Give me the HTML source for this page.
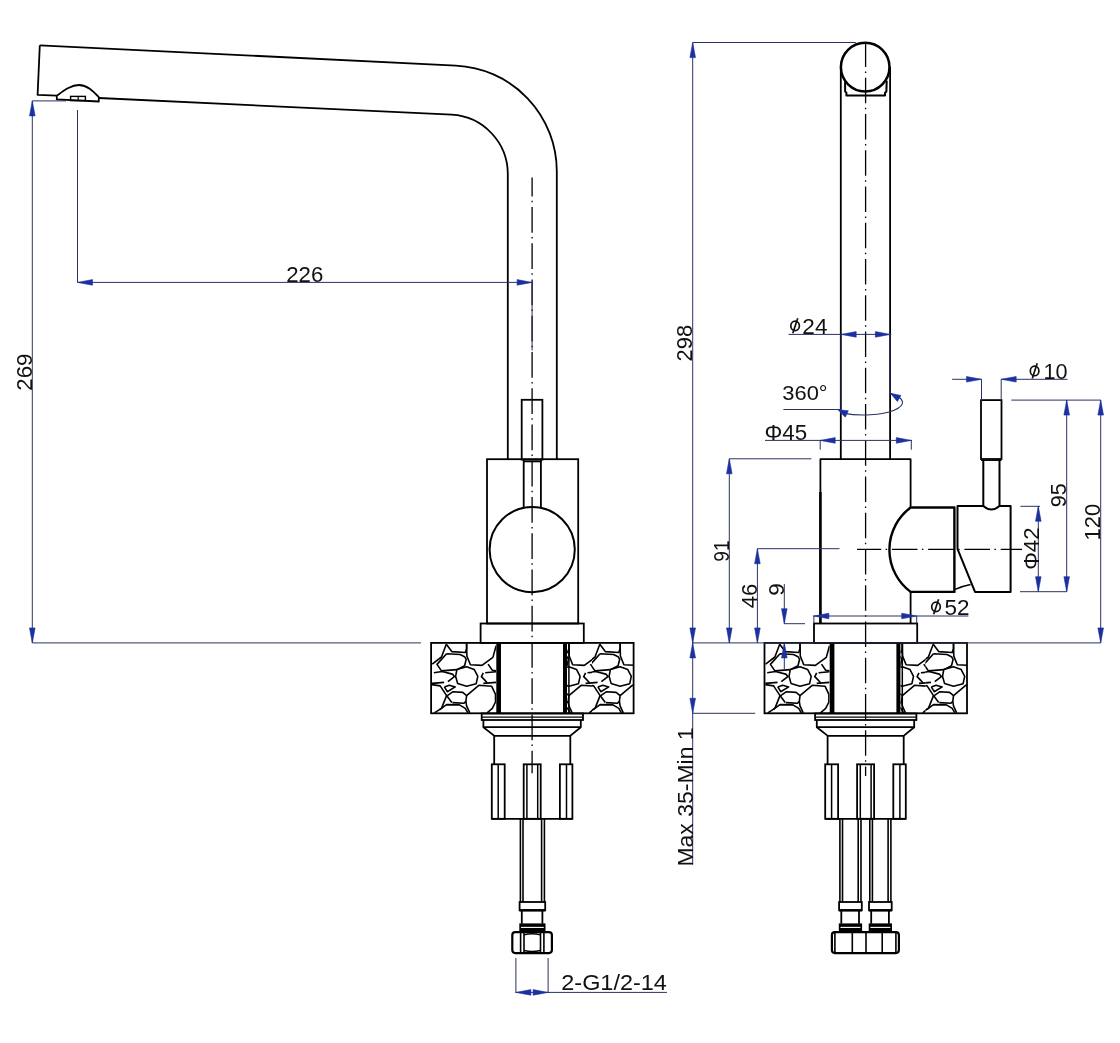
<!DOCTYPE html>
<html><head><meta charset="utf-8"><style>
html,body{margin:0;padding:0;background:#fff;width:1120px;height:1043px;overflow:hidden}
svg{display:block;font-family:"Liberation Sans",sans-serif;will-change:transform;font-kerning:none}
</style></head><body>
<svg width="1120" height="1043" viewBox="0 0 1120 1043" font-family="Liberation Sans, sans-serif" fill="#111">
<defs>
<g id="stones">
<polyline points="432.2,664.1 441.5,657 446.3,644.2" stroke="#000" stroke-width="1.6" fill="none" stroke-linejoin="round"/>
<polyline points="446.3,644.2 451.8,651.6 465.3,652.5 466.6,648.4 466.6,643.5" stroke="#000" stroke-width="1.6" fill="none" stroke-linejoin="round"/>
<polyline points="446.6,653.8 460.1,654.5 464.6,656.7 466.2,659.3 464.6,665.7 456.9,669.6 441.5,670.9 437,664.4 446.6,653.8" stroke="#000" stroke-width="1.6" fill="none" stroke-linejoin="round"/>
<polyline points="466.6,643.5 466.9,656.1 470.4,664.7 482,665.4 492.9,657.4 496.1,645.8" stroke="#000" stroke-width="1.6" fill="none" stroke-linejoin="round"/>
<polyline points="456.9,669.6 466.6,666.7 474.3,669.6 477.8,676.3 476.2,683.7 466.6,686.2 457.6,683.4 455.6,676.3 456.9,669.6" stroke="#000" stroke-width="1.6" fill="none" stroke-linejoin="round"/>
<polyline points="488.1,664.1 492.3,670.2 496.1,670.9" stroke="#000" stroke-width="1.6" fill="none" stroke-linejoin="round"/>
<polyline points="433.8,672.8 442.1,671.5 452.4,674.1 454.4,676.6 447.9,681.7" stroke="#000" stroke-width="1.6" fill="none" stroke-linejoin="round"/>
<polyline points="485.2,672.8 496.1,671.8" stroke="#000" stroke-width="1.6" fill="none" stroke-linejoin="round"/>
<polyline points="483.3,672.8 481.4,676.6 484.6,679.9 487.1,682.7" stroke="#000" stroke-width="1.6" fill="none" stroke-linejoin="round"/>
<polyline points="431.9,683.4 444.1,682.4" stroke="#000" stroke-width="1.6" fill="none" stroke-linejoin="round"/>
<polyline points="431.9,684.6 440.2,685.9 446.6,695.6 451.8,702.6" stroke="#000" stroke-width="1.6" fill="none" stroke-linejoin="round"/>
<polyline points="444.4,686.9 449.2,685.3 455.3,686.9 447.3,691.7 444.4,686.9" stroke="#000" stroke-width="1.6" fill="none" stroke-linejoin="round"/>
<polyline points="447.3,695.6 453.1,691.7 462.7,692.4 466.6,695.6 465.9,701.4 464,703.3 452.4,702.6" stroke="#000" stroke-width="1.6" fill="none" stroke-linejoin="round"/>
<polyline points="466.6,695.6 478.8,685.3 491.6,686.2 495.5,694.3 495.5,702 492.3,708.4 487.1,712.9" stroke="#000" stroke-width="1.6" fill="none" stroke-linejoin="round"/>
<polyline points="483.3,683.4 496.1,682.4" stroke="#000" stroke-width="1.6" fill="none" stroke-linejoin="round"/>
<polyline points="446.6,695.6 441.5,708.4 434.4,712.9" stroke="#000" stroke-width="1.6" fill="none" stroke-linejoin="round"/>
<polyline points="439.6,709.7 446.6,704.6 459.5,704.9 465.3,708.4 467.9,712.9" stroke="#000" stroke-width="1.6" fill="none" stroke-linejoin="round"/>
<polyline points="465.9,701.4 466.6,705.9 469.8,712.9" stroke="#000" stroke-width="1.6" fill="none" stroke-linejoin="round"/>
</g>
<clipPath id="cla"><rect x="431.1" y="642.9" width="65.2" height="70.4"/></clipPath>
<clipPath id="clb"><rect x="567" y="642.9" width="25" height="70.4"/></clipPath>
<clipPath id="clc"><rect x="592" y="642.9" width="41.6" height="70.4"/></clipPath>
<clipPath id="cra"><rect x="764.5" y="642.9" width="65.2" height="70.4"/></clipPath>
<clipPath id="crb"><rect x="900.4" y="642.9" width="25" height="70.4"/></clipPath>
<clipPath id="crc"><rect x="925.4" y="642.9" width="41.6" height="70.4"/></clipPath>
</defs>
<rect width="1120" height="1043" fill="#fff"/>
<path d="M 39.8 45.3 L 455.9 65.6 A 105.9 105.9 0 0 1 556.8 171.4 L 556.8 459.2" stroke="#000" stroke-width="1.8" fill="none" stroke-linejoin="round" />
<path d="M 39.8 45.3 L 37.6 94.8 L 56.8 95.7" stroke="#000" stroke-width="1.8" fill="none" stroke-linejoin="round" />
<path d="M 98.8 98.0 L 451.6 114.7 A 59.5 59.5 0 0 1 507.8 174.2 L 507.8 459.2" stroke="#000" stroke-width="1.8" fill="none" stroke-linejoin="round" />
<path d="M 56.8 95.7 L 56.8 99.3 L 98.8 101.5 L 98.8 97.2 C 93 91 87 85 79 85 C 71 85 64 90.5 56.8 95.7" stroke="#000" stroke-width="1.8" fill="none" stroke-linejoin="round" />
<rect x="70.6" y="96.4" width="14.8" height="4.2" stroke="#000" stroke-width="1.4" fill="none" />
<line x1="78.2" y1="96.4" x2="78.2" y2="100.6" stroke="#000" stroke-width="1.2" />
<rect x="487" y="459.2" width="91.2" height="164.3" stroke="#000" stroke-width="1.8" fill="none" />
<rect x="521.7" y="399.8" width="20.7" height="59.8" stroke="#000" stroke-width="1.8" fill="none" />
<line x1="523.7" y1="459.6" x2="523.7" y2="507.5" stroke="#000" stroke-width="1.8" />
<line x1="540.9" y1="459.6" x2="540.9" y2="507.5" stroke="#000" stroke-width="1.8" />
<line x1="523" y1="461.4" x2="541.6" y2="461.4" stroke="#000" stroke-width="1.8" />
<circle cx="532.2" cy="549.6" r="42.6" stroke="#000" stroke-width="2" fill="none"/>
<g transform="translate(0,0)">
<rect x="480.6" y="623.5" width="103.2" height="19.4" stroke="#000" stroke-width="1.8" fill="none" />
<rect x="431.1" y="642.9" width="202.5" height="70.4" stroke="#000" stroke-width="1.8" fill="none" />
<g clip-path="url(#cla)"><use href="#stones"/></g>
<g clip-path="url(#clb)"><use href="#stones" transform="translate(102.3,0)"/></g>
<g clip-path="url(#clc)"><use href="#stones" transform="translate(153.5,0)"/></g>
<rect x="496.3" y="642.9" width="4.7" height="70.4" fill="#000"/>
<rect x="563" y="642.9" width="4" height="70.4" fill="#000"/>
<line x1="568.9" y1="642.9" x2="568.9" y2="713.3" stroke="#000" stroke-width="1.5" />
<rect x="481.7" y="713.5" width="101.3" height="6.5" stroke="#000" stroke-width="1.8" fill="none" />
<line x1="481.7" y1="717.2" x2="583" y2="717.2" stroke="#000" stroke-width="1.2" />
<polyline points="483.4,720 483.4,727.2 494.4,735.9 570.2,735.9 580.8,727.2 580.8,720" stroke="#000" stroke-width="1.8" fill="none" stroke-linejoin="round" />
<line x1="483.4" y1="727.2" x2="580.8" y2="727.2" stroke="#000" stroke-width="1.8" />
<line x1="494.2" y1="735.9" x2="494.2" y2="764" stroke="#000" stroke-width="1.8" />
<line x1="570.3" y1="735.9" x2="570.3" y2="764" stroke="#000" stroke-width="1.8" />
<line x1="491.8" y1="818.8" x2="572.4" y2="818.8" stroke="#000" stroke-width="1.8" />
<rect x="491.8" y="764.3" width="12.9" height="54.5" stroke="#000" stroke-width="1.8" fill="none" />
<line x1="498.2" y1="764.3" x2="498.2" y2="818.8" stroke="#000" stroke-width="1.5" />
<rect x="523.7" y="764.3" width="17" height="54.5" stroke="#000" stroke-width="1.8" fill="none" />
<line x1="526.9" y1="764.3" x2="526.9" y2="818.8" stroke="#000" stroke-width="1.5" />
<line x1="537.7" y1="764.3" x2="537.7" y2="818.8" stroke="#000" stroke-width="1.5" />
<rect x="559.9" y="764.3" width="12.5" height="54.5" stroke="#000" stroke-width="1.8" fill="none" />
<line x1="566.5" y1="764.3" x2="566.5" y2="818.8" stroke="#000" stroke-width="1.5" />
</g>
<line x1="520.4" y1="818.8" x2="520.4" y2="902" stroke="#000" stroke-width="1.6" />
<line x1="523" y1="818.8" x2="523" y2="902" stroke="#000" stroke-width="1.6" />
<line x1="541.6" y1="818.8" x2="541.6" y2="902" stroke="#000" stroke-width="1.6" />
<line x1="544.4" y1="818.8" x2="544.4" y2="902" stroke="#000" stroke-width="1.6" />
<rect x="519.6" y="902" width="25.6" height="8.3" stroke="#000" stroke-width="1.8" fill="none" />
<line x1="519.6" y1="910.3" x2="545.2" y2="910.3" stroke="#000" stroke-width="2.4" />
<line x1="521.8" y1="910.3" x2="521.8" y2="923.7" stroke="#000" stroke-width="1.8" />
<line x1="542.4" y1="910.3" x2="542.4" y2="923.7" stroke="#000" stroke-width="1.8" />
<rect x="519.3" y="923.4" width="26.2" height="7.9" fill="#000"/>
<line x1="521" y1="927.4" x2="543.8" y2="927.4" stroke="#fff" stroke-width="1.1" />
<rect x="512.3" y="932.1" width="39.6" height="21" rx="3" ry="3" stroke="#000" stroke-width="2.2" fill="none"/>
<line x1="520.6" y1="933" x2="520.6" y2="952" stroke="#000" stroke-width="1.6" />
<line x1="524" y1="933" x2="524" y2="952" stroke="#000" stroke-width="1.6" />
<line x1="540.5" y1="933" x2="540.5" y2="952" stroke="#000" stroke-width="1.6" />
<line x1="543.9" y1="933" x2="543.9" y2="952" stroke="#000" stroke-width="1.6" />
<path d="M 524 934.9 Q 532.1 932.6 540.5 934.9" stroke="#000" stroke-width="1.3" fill="none" stroke-linejoin="round" />
<path d="M 524 950.5 Q 532.1 952.4 540.5 950.5" stroke="#000" stroke-width="1.3" fill="none" stroke-linejoin="round" />
<line x1="532.1" y1="177.4" x2="532.1" y2="773.3" stroke="#000" stroke-width="1.3" stroke-dasharray="25.6 4.4 1.5 4.75" stroke-dashoffset="6.55"/>
<line x1="32.3" y1="100.9" x2="32.3" y2="642.9" stroke="#2a3262" stroke-width="1.0" />
<polygon points="32.3,100.9 35.1,115.9 29.5,115.9" fill="#1c31a0" stroke="#1c31a0" stroke-width="0.6" stroke-linejoin="round"/>
<polygon points="32.3,642.9 29.5,627.9 35.1,627.9" fill="#1c31a0" stroke="#1c31a0" stroke-width="0.6" stroke-linejoin="round"/>
<line x1="32.3" y1="100.9" x2="66" y2="100.9" stroke="#2a3262" stroke-width="1.0" />
<line x1="32.3" y1="642.9" x2="421" y2="642.9" stroke="#2a3262" stroke-width="1.0" />
<text transform="translate(31.9,390.72) rotate(-90) scale(0.9973,1)" font-size="22.34">269</text>
<line x1="77.5" y1="110" x2="77.5" y2="282.4" stroke="#2a3262" stroke-width="1.0" />
<line x1="77.5" y1="282.4" x2="532.1" y2="282.4" stroke="#2a3262" stroke-width="1.0" />
<polygon points="77.5,282.4 92.5,279.6 92.5,285.2" fill="#1c31a0" stroke="#1c31a0" stroke-width="0.6" stroke-linejoin="round"/>
<polygon points="532.1,282.4 517.1,285.2 517.1,279.6" fill="#1c31a0" stroke="#1c31a0" stroke-width="0.6" stroke-linejoin="round"/>
<line x1="532.1" y1="282.4" x2="532.1" y2="350.5" stroke="#2a3262" stroke-width="1.0" />
<text transform="translate(286.18,281.7) scale(1.0213,1)" font-size="21.77">226</text>
<line x1="515.9" y1="958" x2="515.9" y2="993" stroke="#2a3262" stroke-width="1.0" />
<line x1="548.1" y1="958" x2="548.1" y2="993" stroke="#2a3262" stroke-width="1.0" />
<line x1="515.9" y1="992.4" x2="666.9" y2="992.4" stroke="#2a3262" stroke-width="1.0" />
<polygon points="515.9,992.4 530.9,989.6 530.9,995.2" fill="#1c31a0" stroke="#1c31a0" stroke-width="0.6" stroke-linejoin="round"/>
<polygon points="548.1,992.4 533.1,995.2 533.1,989.6" fill="#1c31a0" stroke="#1c31a0" stroke-width="0.6" stroke-linejoin="round"/>
<text transform="translate(561.32,989.9) scale(1.0494,1)" font-size="22.34">2-G1/2-14</text>
<line x1="840.8" y1="67" x2="840.8" y2="459.2" stroke="#000" stroke-width="1.8" />
<line x1="890.1" y1="67" x2="890.1" y2="459.2" stroke="#000" stroke-width="1.8" />
<circle cx="865.2" cy="67.1" r="24.3" stroke="#000" stroke-width="2.5" fill="#fff"/>
<path d="M 845.1 80.6 L 845.1 91.4 L 846.4 92.7 L 846.4 95.4 L 885 95.4 L 885 92.7 L 886.4 91.4 L 886.7 80.6" stroke="#000" stroke-width="2.0" fill="none" stroke-linejoin="round" />
<path d="M 910.6 507.5 L 910.6 459.2 L 820.4 459.2 L 820.4 623.5 M 910.6 591.9 L 910.6 623.5" stroke="#000" stroke-width="1.8" fill="none" stroke-linejoin="round" />
<line x1="820.4" y1="492" x2="820.4" y2="623.5" stroke="#000" stroke-width="2.5" />
<path d="M 910.6 507.5 L 954.4 507.5 L 954.4 591.9 L 910.6 591.9 A 52.6 52.6 0 0 1 910.6 507.5" stroke="#000" stroke-width="2.4" fill="none" stroke-linejoin="round" />
<path d="M 983.3 506.0 L 957.5 506.0 L 957.5 548.8 L 975.0 591.9 L 1010.6 591.9 L 1010.6 506.0 L 999.5 506.0" stroke="#000" stroke-width="2.0" fill="none" stroke-linejoin="round" />
<path d="M 955.2 589.4 Q 962 586 970.6 584.4" stroke="#000" stroke-width="1.5" fill="none" stroke-linejoin="round" />
<rect x="981" y="400.1" width="20.5" height="58.9" stroke="#000" stroke-width="1.8" fill="none" />
<line x1="981" y1="460.2" x2="1001.5" y2="460.2" stroke="#000" stroke-width="1.5" />
<path d="M 983.3 460 L 983.3 506.0 Q 991.4 513 999.5 506.0 L 999.5 460" stroke="#000" stroke-width="2.0" fill="none" stroke-linejoin="round" />
<g transform="translate(333.4,0)">
<rect x="480.6" y="623.5" width="103.2" height="19.4" stroke="#000" stroke-width="1.8" fill="none" />
<rect x="431.1" y="642.9" width="202.5" height="70.4" stroke="#000" stroke-width="1.8" fill="none" />
<g clip-path="url(#cla)"><use href="#stones"/></g>
<g clip-path="url(#clb)"><use href="#stones" transform="translate(102.3,0)"/></g>
<g clip-path="url(#clc)"><use href="#stones" transform="translate(153.5,0)"/></g>
<rect x="496.3" y="642.9" width="4.7" height="70.4" fill="#000"/>
<rect x="563" y="642.9" width="4" height="70.4" fill="#000"/>
<line x1="568.9" y1="642.9" x2="568.9" y2="713.3" stroke="#000" stroke-width="1.5" />
<rect x="481.7" y="713.5" width="101.3" height="6.5" stroke="#000" stroke-width="1.8" fill="none" />
<line x1="481.7" y1="717.2" x2="583" y2="717.2" stroke="#000" stroke-width="1.2" />
<polyline points="483.4,720 483.4,727.2 494.4,735.9 570.2,735.9 580.8,727.2 580.8,720" stroke="#000" stroke-width="1.8" fill="none" stroke-linejoin="round" />
<line x1="483.4" y1="727.2" x2="580.8" y2="727.2" stroke="#000" stroke-width="1.8" />
<line x1="494.2" y1="735.9" x2="494.2" y2="764" stroke="#000" stroke-width="1.8" />
<line x1="570.3" y1="735.9" x2="570.3" y2="764" stroke="#000" stroke-width="1.8" />
<line x1="491.8" y1="818.8" x2="572.4" y2="818.8" stroke="#000" stroke-width="1.8" />
<rect x="491.8" y="764.3" width="12.9" height="54.5" stroke="#000" stroke-width="1.8" fill="none" />
<line x1="498.2" y1="764.3" x2="498.2" y2="818.8" stroke="#000" stroke-width="1.5" />
<rect x="523.7" y="764.3" width="17" height="54.5" stroke="#000" stroke-width="1.8" fill="none" />
<line x1="526.9" y1="764.3" x2="526.9" y2="818.8" stroke="#000" stroke-width="1.5" />
<line x1="537.7" y1="764.3" x2="537.7" y2="818.8" stroke="#000" stroke-width="1.5" />
<rect x="559.9" y="764.3" width="12.5" height="54.5" stroke="#000" stroke-width="1.8" fill="none" />
<line x1="566.5" y1="764.3" x2="566.5" y2="818.8" stroke="#000" stroke-width="1.5" />
</g>
<line x1="839.9" y1="818.8" x2="839.9" y2="902" stroke="#000" stroke-width="1.6" />
<line x1="842.5" y1="818.8" x2="842.5" y2="902" stroke="#000" stroke-width="1.6" />
<line x1="858.2" y1="818.8" x2="858.2" y2="902" stroke="#000" stroke-width="1.6" />
<line x1="861" y1="818.8" x2="861" y2="902" stroke="#000" stroke-width="1.6" />
<rect x="839.1" y="902" width="22.7" height="8.3" stroke="#000" stroke-width="1.8" fill="none" />
<line x1="839.1" y1="910.3" x2="861.8" y2="910.3" stroke="#000" stroke-width="2.4" />
<line x1="841.3" y1="910.3" x2="841.3" y2="923.7" stroke="#000" stroke-width="1.8" />
<line x1="859" y1="910.3" x2="859" y2="923.7" stroke="#000" stroke-width="1.8" />
<rect x="838.8" y="923.4" width="23.3" height="7.9" fill="#000"/>
<line x1="840.5" y1="927.4" x2="860.4" y2="927.4" stroke="#fff" stroke-width="1.1" />
<line x1="869.8" y1="818.8" x2="869.8" y2="902" stroke="#000" stroke-width="1.6" />
<line x1="872.4" y1="818.8" x2="872.4" y2="902" stroke="#000" stroke-width="1.6" />
<line x1="888.1" y1="818.8" x2="888.1" y2="902" stroke="#000" stroke-width="1.6" />
<line x1="890.9" y1="818.8" x2="890.9" y2="902" stroke="#000" stroke-width="1.6" />
<rect x="869" y="902" width="22.7" height="8.3" stroke="#000" stroke-width="1.8" fill="none" />
<line x1="869" y1="910.3" x2="891.7" y2="910.3" stroke="#000" stroke-width="2.4" />
<line x1="871.2" y1="910.3" x2="871.2" y2="923.7" stroke="#000" stroke-width="1.8" />
<line x1="888.9" y1="910.3" x2="888.9" y2="923.7" stroke="#000" stroke-width="1.8" />
<rect x="868.7" y="923.4" width="23.3" height="7.9" fill="#000"/>
<line x1="870.4" y1="927.4" x2="890.3" y2="927.4" stroke="#fff" stroke-width="1.1" />
<rect x="831.9" y="932.1" width="67" height="21" rx="3" ry="3" stroke="#000" stroke-width="2.2" fill="none"/>
<line x1="834.9" y1="933" x2="834.9" y2="952" stroke="#000" stroke-width="1.6" />
<line x1="852.3" y1="933" x2="852.3" y2="952" stroke="#000" stroke-width="1.6" />
<line x1="866" y1="933" x2="866" y2="952" stroke="#000" stroke-width="1.6" />
<line x1="882.2" y1="933" x2="882.2" y2="952" stroke="#000" stroke-width="1.6" />
<line x1="895.9" y1="933" x2="895.9" y2="952" stroke="#000" stroke-width="1.6" />
<line x1="865.6" y1="43.7" x2="865.6" y2="776" stroke="#000" stroke-width="1.3" stroke-dasharray="25.6 4.4 1.5 4.75" stroke-dashoffset="2.3"/>
<line x1="857" y1="549.4" x2="1022" y2="549.4" stroke="#000" stroke-width="1.3" stroke-dasharray="25.6 4.4 1.5 4.75" stroke-dashoffset="1.35"/>
<line x1="692.7" y1="42.6" x2="692.7" y2="864.7" stroke="#2a3262" stroke-width="1.0" />
<polygon points="692.7,42.6 695.5,57.6 689.9,57.6" fill="#1c31a0" stroke="#1c31a0" stroke-width="0.6" stroke-linejoin="round"/>
<polygon points="692.7,642.9 689.9,627.9 695.5,627.9" fill="#1c31a0" stroke="#1c31a0" stroke-width="0.6" stroke-linejoin="round"/>
<polygon points="692.7,642.9 695.5,657.9 689.9,657.9" fill="#1c31a0" stroke="#1c31a0" stroke-width="0.6" stroke-linejoin="round"/>
<polygon points="692.7,713.3 689.9,698.3 695.5,698.3" fill="#1c31a0" stroke="#1c31a0" stroke-width="0.6" stroke-linejoin="round"/>
<line x1="692.7" y1="42.5" x2="855.8" y2="42.5" stroke="#2a3262" stroke-width="1.0" />
<line x1="692.7" y1="642.9" x2="1100.7" y2="642.9" stroke="#2a3262" stroke-width="1.0" />
<line x1="692.7" y1="713.3" x2="755.2" y2="713.3" stroke="#2a3262" stroke-width="1.0" />
<text transform="translate(692.4,361.4) rotate(-90) scale(0.9621,1)" font-size="22.77">298</text>
<text transform="translate(692.6,866.59) rotate(-90) scale(1.0163,1)" font-size="22.63">Max 35-Min 1</text>
<line x1="729.3" y1="458.8" x2="729.3" y2="642.9" stroke="#2a3262" stroke-width="1.0" />
<polygon points="729.3,458.8 732.1,473.8 726.5,473.8" fill="#1c31a0" stroke="#1c31a0" stroke-width="0.6" stroke-linejoin="round"/>
<polygon points="729.3,642.9 726.5,627.9 732.1,627.9" fill="#1c31a0" stroke="#1c31a0" stroke-width="0.6" stroke-linejoin="round"/>
<line x1="729.3" y1="458.8" x2="811.4" y2="458.8" stroke="#2a3262" stroke-width="1.0" />
<text transform="translate(728.8,561.7) rotate(-90) scale(0.8585,1)" font-size="22.34">91</text>
<line x1="757.4" y1="548.7" x2="757.4" y2="642.9" stroke="#2a3262" stroke-width="1.0" />
<polygon points="757.4,548.7 760.2,563.7 754.6,563.7" fill="#1c31a0" stroke="#1c31a0" stroke-width="0.6" stroke-linejoin="round"/>
<polygon points="757.4,642.9 754.6,627.9 760.2,627.9" fill="#1c31a0" stroke="#1c31a0" stroke-width="0.6" stroke-linejoin="round"/>
<line x1="757.4" y1="548.7" x2="839.5" y2="548.7" stroke="#2a3262" stroke-width="1.0" />
<text transform="translate(757.2,608.21) rotate(-90) scale(0.9890,1)" font-size="22.34">46</text>
<line x1="784.3" y1="584" x2="784.3" y2="623.7" stroke="#2a3262" stroke-width="1.0" />
<polygon points="784.3,623.7 781.5,608.7 787.1,608.7" fill="#1c31a0" stroke="#1c31a0" stroke-width="0.6" stroke-linejoin="round"/>
<line x1="784.3" y1="623.7" x2="805" y2="623.7" stroke="#2a3262" stroke-width="1.0" />
<line x1="784.3" y1="642.9" x2="784.3" y2="670.5" stroke="#2a3262" stroke-width="1.0" />
<polygon points="784.3,642.9 787.1,657.9 781.5,657.9" fill="#1c31a0" stroke="#1c31a0" stroke-width="0.6" stroke-linejoin="round"/>
<text transform="translate(784,595.86) rotate(-90) scale(1.0078,1)" font-size="22.34">9</text>
<line x1="788.5" y1="334.4" x2="891.3" y2="334.4" stroke="#2a3262" stroke-width="1.0" />
<polygon points="841.2,334.4 856.2,331.6 856.2,337.2" fill="#1c31a0" stroke="#1c31a0" stroke-width="0.6" stroke-linejoin="round"/>
<polygon points="890.4,334.4 875.4,337.2 875.4,331.6" fill="#1c31a0" stroke="#1c31a0" stroke-width="0.6" stroke-linejoin="round"/>
<line x1="841" y1="334.4" x2="841" y2="414.7" stroke="#2a3262" stroke-width="1.0" />
<line x1="890.1" y1="334.4" x2="890.1" y2="394.7" stroke="#2a3262" stroke-width="1.0" />
<ellipse cx="795.1" cy="325.85" rx="4.3" ry="4.8" stroke="#111" stroke-width="1.7" fill="none"/>
<line x1="792.8" y1="333.3" x2="797.7" y2="318.2" stroke="#111" stroke-width="1.7" />
<text transform="translate(802.37,333.7) scale(1.0433,1)" font-size="21.63">24</text>
<line x1="783.4" y1="409.5" x2="841" y2="409.5" stroke="#2a3262" stroke-width="1.0" />
<path d="M 843.0 413.1 A 39 12.5 0 0 0 891.0 393.6" stroke="#2a3262" stroke-width="1.15" fill="none" stroke-linejoin="round" />
<polygon points="837.8,409.6 848.32,410.85 845.25,417.14" fill="#1c31a0" stroke="#1c31a0" stroke-width="0.6" stroke-linejoin="round"/>
<polygon points="890.5,393.4 900.9,395.4 897.39,401.45" fill="#1c31a0" stroke="#1c31a0" stroke-width="0.6" stroke-linejoin="round"/>
<text transform="translate(782.26,400.4) scale(1.0486,1)" font-size="20.91">360°</text>
<line x1="765" y1="440.4" x2="912" y2="440.4" stroke="#2a3262" stroke-width="1.0" />
<polygon points="820.2,440.4 835.2,437.6 835.2,443.2" fill="#1c31a0" stroke="#1c31a0" stroke-width="0.6" stroke-linejoin="round"/>
<polygon points="911.3,440.4 896.3,443.2 896.3,437.6" fill="#1c31a0" stroke="#1c31a0" stroke-width="0.6" stroke-linejoin="round"/>
<line x1="820.2" y1="440.4" x2="820.2" y2="449.7" stroke="#2a3262" stroke-width="1.0" />
<line x1="911.3" y1="440.4" x2="911.3" y2="449.7" stroke="#2a3262" stroke-width="1.0" />
<text transform="translate(764.42,439.6) scale(1.0550,1)" font-size="21.20">Φ45</text>
<line x1="952.1" y1="379.3" x2="981.5" y2="379.3" stroke="#2a3262" stroke-width="1.0" />
<polygon points="981.5,379.3 966.5,382.1 966.5,376.5" fill="#1c31a0" stroke="#1c31a0" stroke-width="0.6" stroke-linejoin="round"/>
<line x1="1001.2" y1="379.3" x2="1067.5" y2="379.3" stroke="#2a3262" stroke-width="1.0" />
<polygon points="1001.2,379.3 1016.2,376.5 1016.2,382.1" fill="#1c31a0" stroke="#1c31a0" stroke-width="0.6" stroke-linejoin="round"/>
<line x1="981.5" y1="379.3" x2="981.5" y2="400.5" stroke="#2a3262" stroke-width="1.0" />
<line x1="1001.2" y1="379.3" x2="1001.2" y2="400.5" stroke="#2a3262" stroke-width="1.0" />
<ellipse cx="1034.6" cy="370.95" rx="4.3" ry="4.8" stroke="#111" stroke-width="1.7" fill="none"/>
<line x1="1032.3" y1="378.4" x2="1037.2" y2="363.3" stroke="#111" stroke-width="1.7" />
<text transform="translate(1043.45,378.8) scale(0.9887,1)" font-size="21.91">10</text>
<line x1="1011.3" y1="400.1" x2="1100.9" y2="400.1" stroke="#2a3262" stroke-width="1.0" />
<line x1="1066.7" y1="400.1" x2="1066.7" y2="591.7" stroke="#2a3262" stroke-width="1.0" />
<polygon points="1066.7,400.1 1069.5,415.1 1063.9,415.1" fill="#1c31a0" stroke="#1c31a0" stroke-width="0.6" stroke-linejoin="round"/>
<polygon points="1066.7,591.7 1063.9,576.7 1069.5,576.7" fill="#1c31a0" stroke="#1c31a0" stroke-width="0.6" stroke-linejoin="round"/>
<line x1="1020" y1="591.7" x2="1066.7" y2="591.7" stroke="#2a3262" stroke-width="1.0" />
<text transform="translate(1066.3,507.21) rotate(-90) scale(0.9483,1)" font-size="22.77">95</text>
<line x1="1100.7" y1="400.1" x2="1100.7" y2="642.9" stroke="#2a3262" stroke-width="1.0" />
<polygon points="1100.7,400.1 1103.5,415.1 1097.9,415.1" fill="#1c31a0" stroke="#1c31a0" stroke-width="0.6" stroke-linejoin="round"/>
<polygon points="1100.7,642.9 1097.9,627.9 1103.5,627.9" fill="#1c31a0" stroke="#1c31a0" stroke-width="0.6" stroke-linejoin="round"/>
<text transform="translate(1100.3,540.47) rotate(-90) scale(0.9954,1)" font-size="22.06">120</text>
<line x1="1038.3" y1="506.3" x2="1038.3" y2="591.7" stroke="#2a3262" stroke-width="1.0" />
<polygon points="1038.3,506.3 1041.1,521.3 1035.5,521.3" fill="#1c31a0" stroke="#1c31a0" stroke-width="0.6" stroke-linejoin="round"/>
<polygon points="1038.3,591.7 1035.5,576.7 1041.1,576.7" fill="#1c31a0" stroke="#1c31a0" stroke-width="0.6" stroke-linejoin="round"/>
<line x1="1020.4" y1="506.3" x2="1040" y2="506.3" stroke="#2a3262" stroke-width="1.0" />
<text transform="translate(1038.5,569.76) rotate(-90) scale(1.0010,1)" font-size="22.06">Φ42</text>
<line x1="812.8" y1="616" x2="968.4" y2="616" stroke="#2a3262" stroke-width="1.0" />
<polygon points="813.9,616 828.9,613.2 828.9,618.8" fill="#1c31a0" stroke="#1c31a0" stroke-width="0.6" stroke-linejoin="round"/>
<polygon points="916.7,616 901.7,618.8 901.7,613.2" fill="#1c31a0" stroke="#1c31a0" stroke-width="0.6" stroke-linejoin="round"/>
<line x1="813.9" y1="616" x2="813.9" y2="623.4" stroke="#2a3262" stroke-width="1.0" />
<line x1="916.7" y1="616" x2="916.7" y2="623.4" stroke="#2a3262" stroke-width="1.0" />
<ellipse cx="936" cy="606.85" rx="4.3" ry="4.8" stroke="#111" stroke-width="1.7" fill="none"/>
<line x1="933.7" y1="614.3" x2="938.6" y2="599.2" stroke="#111" stroke-width="1.7" />
<text transform="translate(944.5,614.7) scale(1.0618,1)" font-size="21.20">52</text>
</svg>
</body></html>
